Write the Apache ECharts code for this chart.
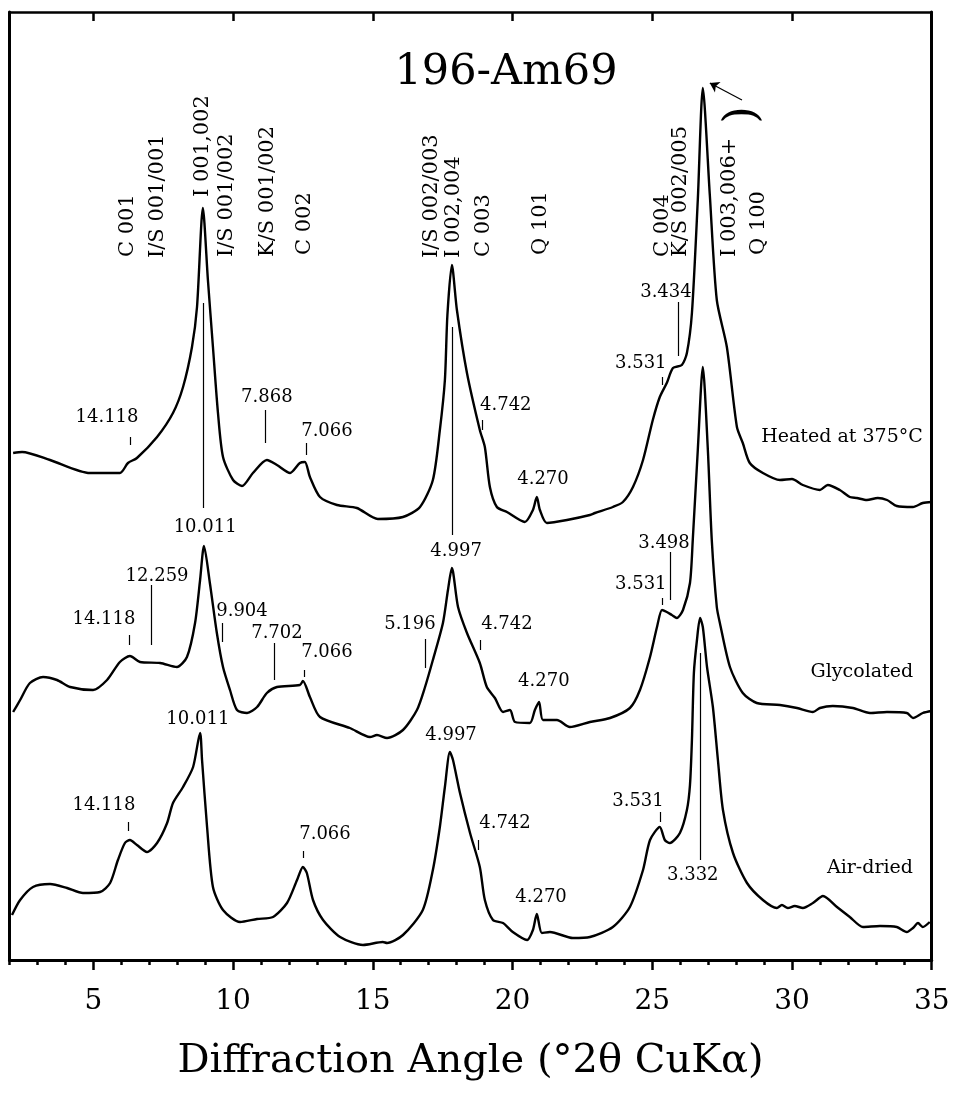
<!DOCTYPE html>
<html>
<head>
<meta charset="utf-8">
<script src="https://cdn.jsdelivr.net/npm/echarts@6/dist/echarts.min.js"></script>
<style>
  html, body { margin: 0; background: #fff; }
  #chart { width: 960px; height: 1096px; }
</style>
</head>
<body>
<div id="chart"></div>
<script>
// XRD scans, [°2θ, intensity] (arbitrary units, stacked)
const heatedScan = [
  [2.13,507],[2.45,508],[3.45,500],[4.88,487],[5.95,487],[6.24,497],[6.56,502],[7.28,523],[7.85,547],
  [8.21,573],[8.53,613],[8.71,653],[8.92,752],[9.10,680],[9.28,613],[9.46,547],[9.64,503],[10.00,480],
  [10.32,474],[10.71,487],[11.21,500],[11.57,495],[12.04,487],[12.39,497],[12.57,498],[12.75,483],
  [13.11,463],[13.72,455],[14.43,452],[15.18,441],[16.08,443],[16.69,453],[17.15,480],[17.40,530],
  [17.58,580],[17.67,645],[17.83,695],[18.01,650],[18.37,587],[18.83,530],[19.01,513],[19.19,473],
  [19.44,453],[19.80,448],[20.44,438],[20.73,450],[20.87,463],[20.98,450],[21.23,437],[21.95,440],
  [22.77,445],[22.95,447],[23.59,453],[23.95,458],[24.31,473],[24.67,500],[25.02,540],[25.27,563],
  [25.52,577],[25.74,592],[26.06,595],[26.24,607],[26.42,647],[26.63,760],[26.81,872],[27.06,765],
  [27.31,660],[27.67,613],[28.03,533],[28.24,517],[28.49,497],[28.96,487],[29.57,480],[30.00,481],
  [30.39,475],[31.00,470],[31.28,475],[31.71,470],[32.07,463],[32.32,462],[32.68,460],[33.07,462],
  [33.40,460],[33.75,454],[34.33,453],[34.68,457],[35.00,458]
];
const glycolatedScan = [
  [2.13,248],[2.38,260],[2.73,277],[3.20,283],[3.70,280],[4.17,273],[4.99,270],[5.49,280],[5.95,298],
  [6.31,304],[6.67,298],[7.39,297],[7.99,293],[8.35,303],[8.64,337],[8.82,380],[8.96,414],[9.17,377],
  [9.42,327],[9.64,293],[9.89,270],[10.14,250],[10.50,247],[10.86,253],[11.21,267],[11.57,273],
  [12.39,275],[12.50,279],[12.75,263],[13.11,243],[14.18,232],[14.90,223],[15.15,225],[15.51,222],
  [16.08,230],[16.58,250],[16.87,273],[17.15,300],[17.51,337],[17.69,370],[17.83,392],[18.05,353],
  [18.37,327],[18.83,297],[19.08,273],[19.37,262],[19.66,248],[19.91,250],[20.09,238],[20.62,237],
  [20.80,250],[20.95,258],[21.09,240],[21.59,240],[22.05,233],[22.77,238],[23.49,242],[24.20,252],
  [24.56,270],[24.92,303],[25.17,333],[25.35,350],[25.52,348],[25.70,345],[25.88,342],[26.10,350],
  [26.35,377],[26.45,420],[26.63,510],[26.81,593],[26.99,510],[27.13,420],[27.31,353],[27.42,337],
  [27.78,293],[28.24,267],[28.74,257],[29.57,255],[30.18,252],[30.75,248],[31.00,252],[31.46,254],
  [32.18,252],[32.79,247],[33.40,248],[34.11,247],[34.33,242],[34.68,247],[35.00,249]
];
const airDriedScan = [
  [2.09,45],[2.38,60],[2.84,73],[3.45,76],[4.06,72],[4.63,67],[5.24,68],[5.60,77],[5.88,100],[6.13,117],
  [6.31,120],[6.56,115],[6.92,108],[7.28,117],[7.64,137],[7.85,157],[8.21,173],[8.57,193],[8.82,227],
  [8.89,200],[9.07,133],[9.28,73],[9.64,50],[10.25,38],[10.86,41],[11.43,43],[11.93,57],[12.29,80],
  [12.50,93],[12.64,87],[12.86,60],[13.22,40],[13.83,23],[14.65,15],[15.36,18],[15.51,17],[16.08,25],
  [16.79,50],[17.15,90],[17.40,133],[17.58,173],[17.76,208],[17.87,200],[18.12,167],[18.48,127],
  [18.83,93],[19.01,60],[19.30,40],[19.66,37],[20.01,28],[20.52,20],[20.73,30],[20.87,46],[21.05,27],
  [21.34,28],[22.16,22],[22.77,23],[23.59,33],[24.20,53],[24.67,90],[24.92,120],[25.27,133],[25.45,120],
  [25.63,117],[25.99,127],[26.24,150],[26.35,175],[26.42,220],[26.49,287],[26.60,320],[26.71,342],
  [26.81,333],[26.96,293],[27.17,253],[27.35,200],[27.53,150],[27.89,107],[28.39,77],[28.96,60],
  [29.46,52],[29.64,55],[29.85,52],[30.10,54],[30.39,52],[30.75,57],[31.11,64],[31.61,53],[32.07,43],
  [32.54,33],[33.15,34],[33.75,33],[34.11,28],[34.33,32],[34.51,37],[34.68,33],[34.93,38]
];

// axis ticks
const majorTicks = [5, 10, 15, 20, 25, 30, 35];
const topTicks = [5, 10, 15, 20, 25, 30];
const minorTicks = [];
for (let t = 2; t <= 35; t++) minorTicks.push(t);

// d-spacing markers: [°2θ, from, to]
const heatedMarks = [
  [6.31,523,515],[8.92,657,452],[11.14,550,517],[12.61,517,505],[17.83,633,425],
  [18.90,540,530],[25.35,583,575],[25.92,658,604]
];
const glycolatedMarks = [
  [6.28,325,315],[7.06,375,315],[9.60,337,318],[11.46,317,280],[12.54,290,283],
  [16.87,321,292],[18.83,320,310],[25.35,362,355],[25.63,408,360]
];
const airDriedMarks = [
  [6.24,138,129],[12.50,109,102],[18.76,120,110],[25.27,148,138],[26.70,307,100]
];

// d-spacing labels: [°2θ, intensity, text]
const heatedNotes = [
  [5.49,543,'14.118'],[9.00,433,'10.011'],[11.21,563,'7.868'],[13.36,529,'7.066'],
  [17.98,409,'4.997'],[19.76,555,'4.742'],[21.09,481,'4.270'],[24.59,597,'3.531'],[25.49,668,'3.434']
];
const glycolatedNotes = [
  [5.38,341,'14.118'],[7.28,384,'12.259'],[10.32,349,'9.904'],[11.57,327,'7.702'],[13.36,308,'7.066'],
  [16.33,336,'5.196'],[19.80,336,'4.742'],[21.12,279,'4.270'],[24.59,376,'3.531'],[25.42,417,'3.498']
];
const airDriedNotes = [
  [8.74,241,'10.011'],[17.80,225,'4.997'],[5.38,155,'14.118'],[13.29,126,'7.066'],
  [19.73,137,'4.742'],[21.02,63,'4.270'],[24.49,159,'3.531'],[26.45,85,'3.332']
];
const sampleNames = [
  [31.79,523,'Heated at 375°C'],[32.50,288,'Glycolated'],[32.79,92,'Air-dried']
];

// mineral reflections, vertical text: [°2θ, bottom of text, text]
const reflections = [
  [6.24,703,'C 001'],[7.31,702,'I/S 001/001'],[8.92,763,'I 001,002'],[9.78,703,'I/S 001/002'],
  [11.25,703,'K/S 001/002'],[12.57,705,'C 002'],[17.12,702,'I/S 002/003'],[17.90,702,'I 002,004'],
  [18.98,703,'C 003'],[21.02,705,'Q 101'],[25.38,703,'C 004'],[26.03,703,'K/S 002/005'],
  [27.78,703,'I 003,006+'],[28.82,705,'Q 100']
];

const FONT = 'DejaVu Serif';
const chart = echarts.init(document.getElementById('chart'));

const textPoint = (n, size) => ({
  name: n[2], value: [n[0], n[1]],
  label: { fontSize: size }
});
const markSegs = m => [{ coord: [m[0], m[1]] }, { coord: [m[0], m[2]] }];

const lineSeries = (name, data) => ({
  name, type: 'line', data, symbol: 'none', smooth: 0.25,
  lineStyle: { color: '#000', width: 2.4 }, silent: true
});

chart.setOption({
  animation: false,
  backgroundColor: '#fff',
  title: {
    text: '196-Am69', left: 501, top: 46, textAlign: 'center',
    textStyle: { fontFamily: FONT, fontSize: 43, fontWeight: 'normal', color: '#000' }
  },
  grid: { left: 9.5, right: 28.3, top: 12, bottom: 136, outerBoundsMode: 'none' },
  xAxis: [
    {
      type: 'value', min: 2, max: 35, position: 'bottom',
      axisLine: { onZero: false, lineStyle: { color: '#000', width: 3 } },
      axisTick: { customValues: majorTicks, length: 10, lineStyle: { color: '#000', width: 2.5 } },
      axisLabel: { customValues: majorTicks, margin: 28, fontSize: 28, fontFamily: FONT, color: '#000' },
      splitLine: { show: false },
      name: 'Diffraction Angle (°2θ CuKα)', nameLocation: 'middle', nameGap: 82,
      nameTextStyle: { fontFamily: FONT, fontSize: 40, color: '#000' }
    },
    {
      type: 'value', min: 2, max: 35, position: 'bottom',
      axisLine: { show: false },
      axisTick: { customValues: minorTicks, length: 5, lineStyle: { color: '#000', width: 2.5 } },
      axisLabel: { show: false }, splitLine: { show: false }
    },
    {
      type: 'value', min: 2, max: 35, position: 'top',
      axisLine: { onZero: false, lineStyle: { color: '#000', width: 2.5 } },
      axisTick: { inside: true, customValues: topTicks, length: 9, lineStyle: { color: '#000', width: 2.5 } },
      axisLabel: { show: false }, splitLine: { show: false }
    }
  ],
  yAxis: [
    {
      type: 'value', min: 0, max: 948, position: 'left',
      axisLine: { show: true, onZero: false, lineStyle: { color: '#000', width: 3 } },
      axisTick: { show: false }, axisLabel: { show: false }, splitLine: { show: false }
    },
    {
      type: 'value', min: 0, max: 948, position: 'right',
      axisLine: { show: true, onZero: false, lineStyle: { color: '#000', width: 3 } },
      axisTick: { show: false }, axisLabel: { show: false }, splitLine: { show: false }
    }
  ],
  series: [
    lineSeries('Heated at 375°C', heatedScan),
    lineSeries('Glycolated', glycolatedScan),
    lineSeries('Air-dried', airDriedScan),
    {
      // d-spacing labels and marker lines
      type: 'scatter', silent: true, symbolSize: 0,
      itemStyle: { opacity: 1 },
      data: [].concat(
        heatedNotes.map(n => textPoint(n, 18)),
        glycolatedNotes.map(n => textPoint(n, 18)),
        airDriedNotes.map(n => textPoint(n, 18)),
        sampleNames.map(n => textPoint(n, 19))
      ),
      label: {
        show: true, position: 'inside', formatter: p => p.name,
        align: 'center', verticalAlign: 'middle',
        fontFamily: FONT, color: '#000', opacity: 1
      },
      markLine: {
        silent: true, symbol: ['none', 'none'], animation: false,
        label: { show: false },
        lineStyle: { color: '#000', width: 1.2, type: 'solid', opacity: 1 },
        data: [].concat(heatedMarks, glycolatedMarks, airDriedMarks).map(markSegs)
      }
    },
    {
      // vertical reflection labels
      type: 'scatter', silent: true, symbolSize: 0,
      itemStyle: { opacity: 1 },
      data: reflections.map(n => textPoint(n, 21)),
      label: {
        show: true, position: 'inside', formatter: p => p.name, rotate: 90,
        align: 'left', verticalAlign: 'middle',
        fontFamily: FONT, color: '#000', opacity: 1
      }
    },
    {
      // bracket and hand-drawn arrow at the big peak
      type: 'scatter', silent: true, symbolSize: 0,
      itemStyle: { opacity: 1 },
      data: [{ name: ')', value: [28.27, 845] }],
      label: {
        show: true, position: 'inside', formatter: p => p.name, rotate: 90,
        align: 'center', verticalAlign: 'middle',
        fontFamily: FONT, fontSize: 44, color: '#000', opacity: 1
      },
      markLine: {
        silent: true, symbol: ['none', 'arrow'], symbolSize: 9, animation: false,
        label: { show: false },
        lineStyle: { color: '#000', width: 1.2, type: 'solid', opacity: 1 },
        data: [[{ coord: [28.21, 860] }, { coord: [27.06, 877] }]]
      }
    }
  ]
});
</script>
</body>
</html>
